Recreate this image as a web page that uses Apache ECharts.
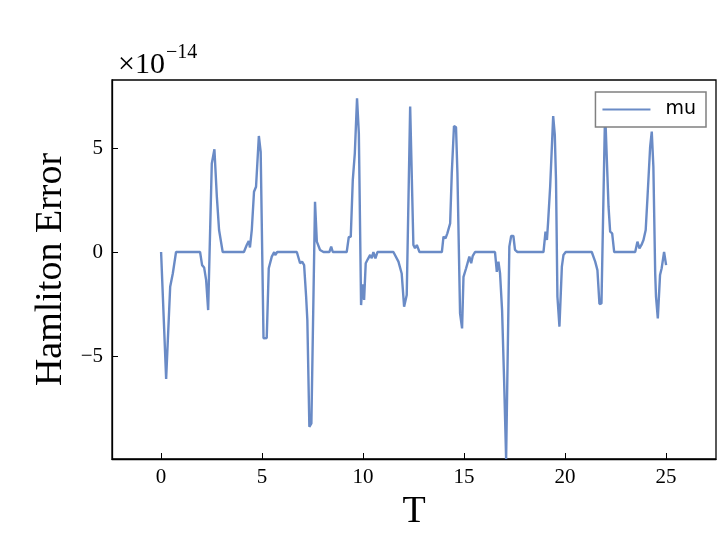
<!DOCTYPE html>
<html>
<head>
    <meta charset="utf-8">
    <title>Hamliton Error</title>
    <script src="https://cdn.jsdelivr.net/npm/echarts@6/dist/echarts.min.js"></script>
    <style>
        * { margin: 0; padding: 0; }
    </style>
</head>
<body>
    <div id="main" style="width: 720px; height: 540px;"></div>
    <script type="text/javascript">
        // values, error in units of 1e-14
        var tVals = [0, 0.25, 0.45, 0.58, 0.74, 1.93, 2.03, 2.13, 2.23, 2.33, 2.51, 2.64, 2.76, 2.87, 2.95, 3.05,
            4.1, 4.24, 4.34, 4.4, 4.49, 4.6, 4.7, 4.84, 4.93, 5.07, 5.23, 5.33, 5.48, 5.56, 5.6, 5.65, 5.75,
            6.72, 6.88, 6.98, 7.08, 7.18, 7.24, 7.34, 7.44, 7.62, 7.71, 7.87, 8.04, 8.33, 8.42, 8.5,
            9.19, 9.29, 9.39, 9.49, 9.59, 9.7, 9.79, 9.9, 9.97, 10.05, 10.13, 10.23, 10.35, 10.43, 10.51, 10.61, 10.71,
            11.5, 11.75, 11.91, 12.03, 12.16, 12.33, 12.49, 12.57, 12.66, 12.79,
            13.9, 13.98, 14.08, 14.17, 14.31, 14.39, 14.5, 14.6, 14.67, 14.8, 14.9, 14.97, 15.1, 15.18, 15.26, 15.35, 15.43, 15.54,
            16.53, 16.62, 16.7, 16.78, 16.88, 16.98, 17.08, 17.24, 17.33, 17.44, 17.52, 17.64,
            18.93, 19.03, 19.1, 19.16, 19.26, 19.41, 19.49, 19.55, 19.62, 19.72, 19.84, 19.92, 20.03,
            21.32, 21.49, 21.6, 21.7, 21.8, 21.98, 22.15, 22.23, 22.33, 22.43,
            23.47, 23.58, 23.68, 23.78, 23.88, 23.99, 24.08, 24.21, 24.29, 24.37, 24.46, 24.5, 24.59, 24.7, 24.78, 24.9, 25.0];
        var errVals = [0, -6.1, -1.67, -1.03, 0, 0, -0.63, -0.74, -1.35, -2.79, 4.26, 4.94, 2.66, 1.06, 1.06, 0,
            0, 0.34, 0.53, 0.22, 1.06, 2.9, 3.14, 5.58, 4.82, -4.15, -4.13, -0.78, -0.22, -0.14, 0, -0.15, 0,
            0, -0.54, -0.46, -0.63, -2.15, -3.27, -8.4, -8.24, 2.42, 0.5, 0.1, 0, 0, 0.26, 0,
            0, 0.71, 0.74, 3.46, 4.74, 7.39, 5.7, -2.55, -1.55, -2.3, -0.54, -0.35, -0.14, -0.3, 0, -0.3, 0,
            0, -0.46, -1.03, -2.63, -2.07, 6.99, 0.34, 0.18, 0.34, 0,
            0, 0.74, 0.66, 0.9, 1.38, 3.78, 6.06, 6.0, 3.78, -2.95, -3.67, -1.19, -0.78, -0.87, -0.22, -0.54, -0.18, 0,
            0, -0.95, -0.46, -1.03, -2.79, -6.15, -9.95, 0.26, 0.77, 0.77, 0.1, 0,
            0, 0.98, 0.58, 1.46, 3.14, 6.54, 5.63, 3.46, -2.15, -3.59, -0.7, -0.14, 0,
            0, -0.46, -0.87, -2.5, -2.47, 6.8, 2.18, 0.98, 0.9, 0,
            0, 0.5, 0.18, 0.34, 0.58, 1.06, 2.66, 5.06, 5.79, 4.1, -1.03, -2.15, -3.19, -1.1, -0.78, 0, -0.63];
        var xTicks = [0, 5, 10, 15, 20, 25];
        var yTicks = [-5, 0, 5];

        var points = tVals.map(function (t, i) {
            return [t, errVals[i]];
        });

        var serif = 'Liberation Serif';
        var myChart = echarts.init(document.getElementById('main'));
        var option = {
            backgroundColor: '#fff',
            animation: false,
            title: {
                left: 113,
                top: 38,
                text: '×10{sup|−14}',
                textStyle: {
                    fontFamily: serif,
                    fontSize: 30,
                    fontWeight: 'normal',
                    color: '#000',
                    rich: {
                        sup: {
                            fontFamily: serif,
                            fontSize: 20,
                            verticalAlign: 'top',
                            padding: [0, 0, 24, 1],
                            color: '#000'
                        }
                    }
                }
            },
            legend: {
                right: 14,
                top: 92,
                orient: 'vertical',
                backgroundColor: '#fff',
                borderColor: '#808080',
                borderWidth: 1.5,
                borderRadius: 0,
                padding: [8, 10, 8, 7],
                itemWidth: 48,
                itemHeight: 2,
                itemGap: 10,
                icon: 'rect',
                textStyle: {
                    fontFamily: 'DejaVu Sans',
                    fontSize: 19,
                    color: '#000',
                    padding: [0, 0, 0, 10]
                },
                data: ['mu']
            },
            grid: {
                left: 112,
                right: 4,
                top: 80,
                bottom: 81,
                show: true,
                borderColor: '#000',
                borderWidth: 1.3,
                containLabel: false
            },
            xAxis: {
                type: 'value',
                min: -2.43,
                max: 27.47,
                name: 'T',
                nameLocation: 'middle',
                nameGap: 32,
                nameTextStyle: { fontFamily: serif, fontSize: 38, color: '#000' },
                axisLine: { show: true, onZero: false, lineStyle: { color: '#000', width: 1.3 } },
                axisTick: {
                    show: true, inside: true, length: 6,
                    customValues: xTicks,
                    lineStyle: { color: '#000', width: 1 }
                },
                axisLabel: {
                    customValues: xTicks,
                    fontFamily: serif,
                    fontSize: 21,
                    color: '#000',
                    margin: 8
                },
                splitLine: { show: false }
            },
            yAxis: {
                type: 'value',
                min: -9.95,
                max: 8.27,
                name: 'Hamliton Error',
                nameLocation: 'middle',
                nameGap: 38,
                nameTextStyle: { fontFamily: serif, fontSize: 38, color: '#000' },
                axisLine: { show: true, onZero: false, lineStyle: { color: '#000', width: 1.3 } },
                axisTick: {
                    show: true, inside: true, length: 6,
                    customValues: yTicks,
                    lineStyle: { color: '#000', width: 1 }
                },
                axisLabel: {
                    customValues: yTicks,
                    fontFamily: serif,
                    fontSize: 21,
                    color: '#000',
                    margin: 9,
                    formatter: function (v) {
                        return v < 0 ? '−' + Math.abs(v) : String(v);
                    }
                },
                splitLine: { show: false }
            },
            series: [
                {
                    name: 'mu',
                    type: 'line',
                    data: points,
                    showSymbol: false,
                    symbol: 'none',
                    clip: true,
                    lineStyle: { color: '#6a8bc6', width: 2.4 },
                    itemStyle: { color: '#6a8bc6' }
                }
            ]
        };

        myChart.setOption(option);
    </script>
</body>
</html>
